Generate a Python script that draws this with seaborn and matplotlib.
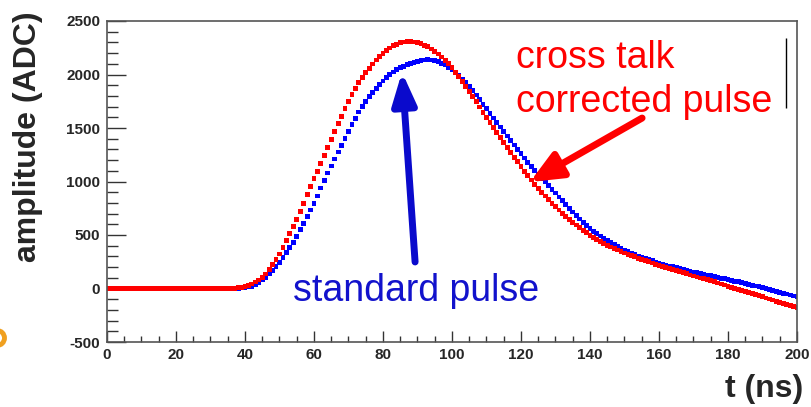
import matplotlib
matplotlib.use("Agg")
import matplotlib.pyplot as plt
from matplotlib.ticker import MultipleLocator
from matplotlib.patches import Circle
import pandas as pd
import seaborn as sns

# Sample times (ns), one sample per nanosecond
time_ns = list(range(0, 201))

# Standard pulse amplitude (ADC counts)
standard_pulse = [
    0, 0, 0, 0, 0, 0, 0, 0, 0, 0, 0, 0, 0, 0, 0, 0, 0, 0, 0, 0,
    0, 0, 0, 0, 0, 0, 0, 0, 0, 0, 0, 0, 0, 0, 0, 0, 0, 1, 3, 5,
    8, 14, 22, 38, 58, 82, 106, 136, 168, 205,
    245, 290, 335, 382, 432, 488, 548, 610, 672, 734,
    795, 865, 940, 1012, 1080, 1145, 1210, 1275, 1340, 1402,
    1465, 1530, 1590, 1650, 1700, 1748, 1792, 1832, 1870, 1905,
    1940, 1972, 2000, 2024, 2045, 2062, 2077, 2090, 2102, 2114,
    2124, 2131, 2136, 2138, 2136, 2130, 2120, 2106, 2088, 2067,
    2043, 2016, 1988, 1958, 1925, 1890, 1852, 1809, 1766, 1723,
    1680, 1637, 1594, 1551, 1509, 1467, 1425, 1382, 1341, 1300,
    1260, 1220, 1180, 1140, 1102, 1065, 1030, 995, 962, 928,
    892, 856, 820, 785, 748, 715, 682, 650, 620, 590,
    562, 536, 512, 490, 470, 450, 432, 414, 396, 378,
    360, 344, 330, 316, 303, 290, 279, 268, 258, 248,
    238, 229, 220, 211, 202, 193, 185, 177, 169, 161,
    153, 146, 139, 132, 125, 118, 111, 104, 97, 90,
    83, 76, 69, 62, 55, 47, 39, 31, 23, 15,
    7, -1, -9, -17, -25, -34, -43, -52, -61, -70,
    -78,
]

# Cross-talk corrected pulse amplitude (ADC counts)
corrected_pulse = [
    0, 0, 0, 0, 0, 0, 0, 0, 0, 0, 0, 0, 0, 0, 0, 0, 0, 0, 0, 0,
    0, 0, 0, 0, 0, 0, 0, 0, 0, 0, 0, 0, 0, 0, 0, 0, 1, 3, 6, 11,
    18, 28, 42, 60, 80, 105, 135, 175, 222, 268,
    322, 385, 448, 512, 578, 646, 718, 795, 875, 955,
    1025, 1097, 1170, 1245, 1320, 1395, 1468, 1540, 1610, 1680,
    1748, 1812, 1870, 1922, 1970, 2015, 2058, 2098, 2135, 2168,
    2198, 2225, 2248, 2268, 2284, 2296, 2304, 2309, 2308, 2304,
    2297, 2287, 2274, 2258, 2239, 2216, 2191, 2164, 2134, 2100,
    2062, 2022, 1980, 1935, 1888, 1840, 1792, 1744, 1696, 1648,
    1600, 1552, 1505, 1458, 1411, 1365, 1319, 1273, 1228, 1184,
    1140, 1097, 1055, 1014, 975, 937, 900, 864, 830, 796,
    764, 733, 703, 674, 646, 619, 593, 568, 544, 521,
    499, 478, 458, 439, 421, 404, 388, 373, 359, 345,
    332, 320, 308, 296, 284, 272, 261, 250, 239, 228,
    217, 207, 197, 187, 177, 167, 157, 147, 137, 127,
    117, 108, 99, 90, 81, 72, 62, 52, 42, 32,
    22, 12, 2, -8, -18, -28, -38, -48, -58, -68,
    -78, -88, -98, -108, -118, -128, -138, -148, -158, -168,
    -178,
]

pulse_names = ["standard", "corrected"]
pulse_colors = {"standard": "#0000ff", "corrected": "#ff0000"}

sns.set_theme(style="white")
plt.rcParams["font.family"] = ["Liberation Sans", "DejaVu Sans"]
plt.rcParams["axes.unicode_minus"] = False

# Long-form table; standard rows first so the corrected pulse is drawn on top
df = pd.DataFrame({
    "t": time_ns + time_ns,
    "amplitude": standard_pulse + corrected_pulse,
    "pulse": [pulse_names[0]] * len(time_ns) + [pulse_names[1]] * len(time_ns),
})

W, H = 812, 407
fig = plt.figure(figsize=(W / 100, H / 100), dpi=100)
ax = fig.add_axes([107 / W, 65 / H, 690 / W, 321 / H])

sns.scatterplot(
    data=df, x="t", y="amplitude", hue="pulse", palette=pulse_colors,
    marker="s", s=12, linewidth=0, legend=False, ax=ax,
)

ax.set_xlim(0, 200)
ax.set_ylim(-500, 2500)
ax.set_xlabel("")
ax.set_ylabel("")

ax.xaxis.set_major_locator(MultipleLocator(20))
ax.xaxis.set_minor_locator(MultipleLocator(5))
ax.yaxis.set_major_locator(MultipleLocator(500))
ax.yaxis.set_minor_locator(MultipleLocator(100))

ax.tick_params(which="both", direction="in", bottom=True, left=True,
               top=False, right=False, color="#333333", width=1.0)
ax.tick_params(axis="y", which="major", length=14, pad=5, labelsize=11)
ax.tick_params(axis="y", which="minor", length=8)
ax.tick_params(axis="x", which="major", length=8, pad=4, labelsize=11)
ax.tick_params(axis="x", which="minor", length=4.5)
for lbl in ax.get_xticklabels() + ax.get_yticklabels():
    lbl.set_fontweight("bold")

for side in ["left", "bottom", "top", "right"]:
    ax.spines[side].set_visible(True)
    ax.spines[side].set_color("#555555")
    ax.spines[side].set_linewidth(1.2)

# Axis titles
fig.text(28 / W, 1 - 137 / H, "amplitude (ADC)", rotation=90, fontsize=23,
         fontweight="bold", ha="center", va="center")
fig.text(803 / W, 1 - 397 / H, "t (ns)", fontsize=23, fontweight="bold",
         ha="right", va="baseline")

# Curve labels
ax.text(53.9, -117, "standard pulse", color="#1212cc", fontsize=27,
        ha="left", va="baseline")
ax.text(118.6, 2061, "cross talk", color="#ff0000", fontsize=27,
        ha="left", va="baseline")
ax.text(118.6, 1650, "corrected pulse", color="#ff0000", fontsize=27,
        ha="left", va="baseline")

# Pointer arrows
ax.annotate("", xy=(85.5, 2023), xytext=(89.3, 248),
            arrowprops=dict(arrowstyle="-|>,head_length=1.6,head_width=0.6",
                            lw=5, color="#0a0acc", shrinkA=0, shrinkB=0))
ax.annotate("", xy=(122.6, 995), xytext=(155.1, 1593),
            arrowprops=dict(arrowstyle="-|>,head_length=1.6,head_width=0.7",
                            lw=5, color="#ff0000", shrinkA=0, shrinkB=0))

# Thin vertical rule at the upper right
ax.vlines(196.8, 1687, 2341, color="black", lw=1)

# Orange ring cut by the left border
fig.patches.append(Circle((-3 / 100, (H - 338) / 100), 0.075, fill=False,
                          edgecolor="#f0a020", linewidth=3.5,
                          transform=fig.dpi_scale_trans))

fig.savefig("out.png", dpi=100)
